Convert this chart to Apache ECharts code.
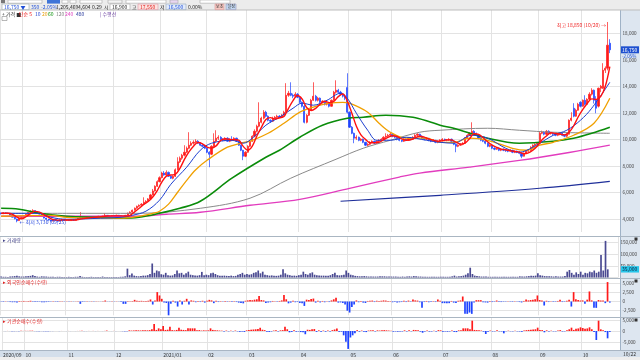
<!DOCTYPE html>
<html><head><meta charset="utf-8">
<script src="https://cdn.jsdelivr.net/npm/echarts@6/dist/echarts.min.js"></script>
<style>html,body{margin:0;padding:0;background:#fff}#c{width:640px;height:360px}</style>
</head><body><div id="c"></div>
<script>
// ---------- DATA ----------
const monthLabels = ['2020/09','10','11','12','2021/01','02','03','04','05','06','07','08','09','10'];
const monthDays = [10,19,21,21,20,18,23,22,19,22,22,21,19,13];
const lastDateLabel = '10/22';

// candles: [open, close, low, high]
const sep20 = [[4420,4380,4330,4470],[4380,4450,4350,4500],[4450,4400,4360,4490],[4400,4420,4350,4460],[4410,4280,4250,4430],[4280,4120,4100,4300],[4120,4000,3960,4150],[3980,3850,3730,4000],[3860,4030,3830,4060],[4030,4100,4000,4140]];
const oct20 = [[4100,4200,4080,4230],[4200,4330,4180,4360],[4330,4480,4300,4520],[4480,4560,4430,4640],[4560,4620,4500,4720],[4620,4500,4460,4650],[4500,4420,4380,4530],[4420,4350,4320,4450],[4350,4200,4170,4370],[4200,4050,4020,4220],[4050,3960,3920,4080],[3960,3900,3850,4000],[3900,3830,3790,3930],[3830,3950,3810,3980],[3950,3880,3850,3990],[3880,3820,3780,3910],[3820,3900,3800,3940],[3900,3960,3870,3990],[3960,3880,3860,3980]];
const nov20 = [[3880,3900,3850,3940],[3900,3860,3830,3930],[3860,3920,3840,3950],[3920,3880,3860,3950],[3880,3960,3870,3990],[3960,4040,3940,4070],[4040,4110,4020,4500],[4110,4080,4050,4150],[4080,4030,4000,4100],[4030,4100,4010,4130],[4100,4080,4060,4140],[4080,4160,4060,4190],[4160,4110,4080,4180],[4110,4170,4100,4200],[4170,4190,4140,4220],[4190,4150,4130,4210],[4150,4200,4130,4230],[4200,4260,4180,4420],[4260,4210,4190,4280],[4210,4190,4160,4240],[4190,4250,4170,4270]];
const dec20 = [[4250,4200,4180,4280],[4200,4270,4190,4300],[4270,4240,4210,4290],[4240,4180,4160,4260],[4180,4150,4120,4210],[4150,4260,4140,4290],[4260,4420,4240,4460],[4420,4500,4380,4560],[4500,4650,4470,4690],[4650,4800,4620,4850],[4800,4940,4760,4990],[4940,5020,4880,5080],[5020,5100,4990,5180],[5100,5250,5050,5620],[5250,5320,5200,5400],[5320,5500,5300,5560],[5500,5800,5480,5880],[5800,6100,5760,6250],[6100,6450,6050,6520],[6450,6800,6400,6900],[6800,7100,6750,7200]];
const jan21 = [[7100,7450,7050,7550],[7450,7300,7250,7600],[7300,7500,7220,7650],[7500,7210,7150,7560],[7210,7060,7000,7280],[7060,7200,6980,7280],[7200,7700,7150,7800],[7700,8300,7650,8640],[8300,8570,8200,8700],[8570,8790,8450,8900],[8790,9020,8700,9550],[9020,9320,8950,9450],[9320,9550,9250,10530],[9550,9700,9480,9850],[9700,9770,9600,9920],[9770,9850,9700,10000],[9850,9700,9650,9930],[9700,9550,9480,9780],[9550,9470,9400,9620],[9470,9320,9250,9520]];
const feb21 = [[9320,9020,8950,9380],[9020,8870,7890,9100],[8870,9470,8800,9550],[9470,9850,9400,10450],[9850,10080,9780,10680],[10080,10150,9950,10300],[10150,9990,9920,10230],[9990,9920,9850,10080],[9920,10080,9880,10150],[10080,9850,9800,10150],[9850,10000,9780,10080],[10000,9920,9850,10230],[9920,10080,9880,10150],[10080,9850,9800,10120],[9850,9550,9500,9900],[9550,9170,9100,9600],[9170,8720,8420,9200],[8720,9020,8650,9100]];
const mar21 = [[9020,9470,8980,9550],[9470,9850,9400,9950],[9850,10230,9800,10300],[10230,10600,10150,10750],[10600,10980,10520,11100],[10980,11280,10900,12790],[11280,11590,11200,11700],[11590,12040,11500,12200],[12040,11740,11650,12150],[11740,11430,11350,11800],[11430,11360,11250,11500],[11360,11590,11300,11700],[11590,11660,11500,11750],[11660,11740,11600,11850],[11740,11660,11580,11820],[11660,11810,11600,11900],[11810,12040,11750,12150],[12040,13320,12000,14230],[13320,13470,13200,13650],[13470,13320,13250,14300],[13320,13250,13100,13450],[13250,13400,13150,13550],[13400,13170,13100,13480]];
const apr21 = [[13170,12790,12700,13250],[12790,12490,12400,12850],[12490,11280,11200,12600],[11280,11810,11200,11900],[11810,12190,11750,12300],[12190,12940,12150,13050],[12940,13250,12900,14300],[13250,12940,12850,13350],[12940,13100,12850,13200],[13100,12790,12700,13150],[12790,12870,12700,12950],[12870,12640,12550,12900],[12640,12720,12550,12800],[12720,12490,12400,12760],[12490,12940,12450,13000],[12940,13550,12900,13650],[13550,13700,13450,14450],[13700,13550,13450,13800],[13550,13400,13300,13650],[13400,13250,13150,13500],[13250,13100,12950,13350],[13900,12040,11950,14980]];
const may21 = [[12040,10910,10850,12100],[10910,10450,10380,11000],[10450,10080,9700,10500],[10080,10150,9950,10300],[10150,9920,9850,10200],[9920,10000,9850,10080],[10000,9770,9700,10050],[9770,9550,9480,9800],[9550,9620,9450,9700],[9620,9770,9550,9850],[9770,9850,9700,9920],[9850,9700,9650,9900],[9700,9850,9650,9920],[9850,9920,9780,10000],[9920,10000,9850,10080],[10000,10150,9950,10230],[10150,10230,10080,10450],[10230,10300,10150,10400],[10300,10380,10230,10500]];
const jun21 = [[10380,10230,10150,10450],[10230,10150,10080,10300],[10150,10000,9920,10200],[10000,9920,9850,10080],[9920,9850,9780,9950],[9850,10000,9800,10080],[10000,9920,9850,10050],[9920,10080,9880,10150],[10080,10000,9920,10150],[10000,10150,9950,10230],[10150,10300,10080,10380],[10300,10380,10230,10450],[10380,10230,10150,10420],[10230,10080,10000,10300],[10080,10000,9920,10150],[10000,10080,9950,10150],[10080,9920,9850,10100],[9920,9850,9780,9980],[9850,9920,9800,10000],[9920,9770,9700,9950],[9770,9850,9700,9920],[9850,9920,9800,10000]];
const jul21 = [[9920,10000,9850,10080],[10000,9920,9850,10050],[9920,9950,9850,10020],[9950,10000,9880,10080],[10000,9850,9800,10050],[9850,9620,9550,9880],[9620,9470,9020,9650],[9470,9550,9400,9620],[9550,9620,9500,9700],[9620,9700,9550,9780],[9700,10080,9650,10150],[10080,10300,10000,10380],[10300,10450,10250,10530],[10450,10600,10380,11280],[10600,10450,10380,10680],[10450,10300,10230,10500],[10300,10080,10000,10350],[10080,9920,9850,10150],[9920,9850,9780,9980],[9850,9700,9620,9900],[9700,9470,9400,9750],[9470,9550,9400,9620]];
const aug21 = [[9550,9320,9250,9600],[9320,9250,9170,9400],[9250,9320,9200,9400],[9320,9170,9100,9380],[9170,9250,9100,9320],[9250,9170,9100,9300],[9170,9120,9050,9250],[9120,9100,9020,9200],[9100,9170,9050,9250],[9170,9020,8950,9200],[9020,9100,8950,9170],[9100,9020,8950,9150],[9020,8940,8870,9100],[8940,8720,8570,8980],[8720,8940,8700,9000],[8940,9100,8900,9170],[9100,9170,9050,9250],[9170,9400,9120,9470],[9400,9550,9350,9620],[9550,9620,9470,9700],[9620,9700,9550,9780]];
const sep21 = [[9700,10450,9650,10600],[10450,10530,10380,10650],[10530,10380,10300,10600],[10380,10600,10300,10700],[10600,10450,10380,10680],[10450,10460,10350,10550],[10460,10380,10300,10500],[10380,10300,10230,10450],[10300,10380,10230,10450],[10380,10450,10300,10530],[10450,10300,10230,10500],[10300,10230,10150,10380],[10230,10380,10150,10450],[10380,11430,10350,11500],[11430,11590,11350,12040],[12340,11740,11660,12720],[11740,12190,11700,12300],[12190,12640,12150,12750],[12790,12490,12400,12870]];
const oct21 = [[12490,12940,12450,13000],[12940,12640,12550,13320],[12640,13020,12600,13100],[13020,13400,12950,13550],[13400,13700,13300,13850],[13700,12940,12700,13750],[12940,12340,11960,13250],[12500,13850,12400,13900],[13850,14000,13550,14100],[13850,15210,13800,15740],[15210,15360,15000,15500],[15360,17100,15200,18850],[17250,16750,16500,17550]];

const volume = [
 4000,3000,3000,2000,4000,5000,6000,8000,5000,4000,
 4000,5000,6000,7000,10000,6000,4000,3000,5000,4000,4000,3000,3000,3000,2000,3000,3000,2000,2000,
 2000,3000,2000,2000,3000,3000,6000,3000,2000,2000,2000,3000,2000,2000,2000,2000,4000,2000,2000,2000,2000,
 2000,2000,2000,3000,3000,5000,38000,10000,17000,8000,6000,5000,6000,8000,8000,10000,15000,60000,20000,30000,27000,
 14000,12000,20000,10000,8000,9000,15000,30000,18000,20000,12000,18000,25000,12000,10000,9000,8000,10000,24000,10000,
 12000,10000,18000,20000,15000,10000,8000,7000,8000,7000,6000,8000,6000,7000,12000,15000,20000,12000,
 15000,12000,14000,20000,22000,30000,18000,25000,12000,10000,8000,9000,8000,7000,8000,12000,35000,18000,12000,10000,8000,8000,7000,
 10000,12000,25000,15000,12000,18000,22000,12000,10000,9000,8000,8000,7000,8000,10000,15000,20000,10000,9000,10000,12000,30000,
 20000,12000,10000,7000,6000,5000,5000,6000,5000,4000,4000,4000,4000,4000,5000,5000,5000,4000,4000,
 4000,4000,4000,3000,3000,4000,3000,4000,5000,4000,6000,5000,4000,4000,3000,3000,3000,3000,3000,3000,3000,3000,
 3000,3000,3000,3000,3000,5000,8000,4000,5000,6000,8000,12000,18000,42000,15000,8000,6000,5000,4000,4000,4000,3000,
 3000,3000,3000,3000,3000,3000,3000,3000,3000,3000,3000,3000,3000,5000,4000,4000,5000,6000,7000,7000,8000,
 18000,10000,8000,6000,5000,5000,5000,4000,5000,4000,4000,4000,6000,25000,32000,20000,12000,22000,15000,
 25000,12000,20000,18000,25000,22000,30000,20000,25000,97000,30000,157000,35000];

const foreignNet = [
 -80,-120,60,-90,-150,-200,-180,-250,120,90,
 150,80,120,200,-100,-150,-120,-90,-200,-180,-160,-120,-100,80,-90,-110,60,70,-60,
 50,-40,60,-50,40,70,-640,-120,-80,60,-50,70,-60,50,40,-30,60,270,-40,-50,60,
 -60,50,-40,-120,-640,-640,100,80,120,450,200,150,180,120,150,200,550,-820,300,2550,1640,
 730,-300,-400,-4100,-600,200,-300,-1370,300,-820,200,730,-820,300,200,-200,150,-150,200,-300,
 200,450,300,-450,200,-150,100,-100,150,-100,80,-120,100,-150,-300,-400,-500,200,
 300,400,350,500,600,1500,400,300,-400,-300,-200,150,100,-100,150,300,1800,600,-500,-300,200,-200,-150,
 -400,-500,-1200,500,400,700,800,-300,200,-250,150,-200,100,-150,300,600,1000,-300,-250,-400,-800,-2500,
 -3000,-1500,-800,300,-200,150,-300,-400,150,200,250,-150,200,150,200,300,250,150,100,
 -200,-150,-250,-200,-150,200,-150,250,-100,550,300,250,-200,-1730,-150,150,-200,-150,100,-150,550,200,
 -450,-450,-450,-450,150,-300,-400,200,300,1360,-3360,-3360,-3000,-3360,-300,360,360,360,-200,-250,-300,150,
 -150,-100,270,-120,-150,-100,-80,100,-90,-120,80,-100,-150,-250,150,550,300,400,500,600,1640,
 400,300,-1090,200,-150,100,-120,-100,150,450,-150,-100,200,500,-1370,2550,600,400,270,
 300,-640,500,2730,300,-1730,-1730,400,270,270,-450,5280,-300];

const instNet = [
 50,-30,40,-20,-60,-80,-50,-100,60,40,
 80,60,100,150,-50,-80,-60,-40,-100,-90,-70,-50,-40,30,-30,-40,20,40,-20,
 30,-20,40,-20,30,50,100,-40,-30,30,-20,40,-30,30,20,-20,40,200,-30,-20,40,
 -30,30,-20,-80,-150,-100,300,200,250,400,300,250,300,350,300,400,800,3240,500,1230,800,
 2310,500,600,2000,400,300,500,1540,600,500,400,1230,1230,1230,1230,300,400,200,300,250,
 300,1230,500,400,300,200,150,-200,200,-150,150,-100,200,-150,-300,-200,-400,300,
 500,600,700,800,900,1500,600,400,-300,-400,-200,200,300,-200,300,400,2000,800,-600,-400,300,-300,-200,
 -500,-600,-1500,600,500,800,900,-400,300,-300,200,-300,200,-200,400,700,1200,-400,-300,-2000,-5000,-8300,
 -3000,-2000,-1000,400,-300,200,-400,-500,200,300,300,-200,300,200,300,400,300,200,150,
 -300,-200,-300,-250,-200,300,-200,300,-150,500,400,300,-300,-800,-200,200,-250,-200,150,-200,400,300,
 -300,-200,-300,-200,200,-400,-500,300,400,1230,1230,1230,800,4780,500,400,300,200,-300,-1390,-400,200,
 -200,-150,300,-150,-200,-1080,-100,150,-120,-150,100,-150,-200,-300,200,400,500,600,700,800,1540,
 500,400,-600,300,-200,150,-150,-150,200,400,-200,-150,300,800,1540,500,1000,1200,1700,
 1400,1000,1200,1700,800,-500,-4160,4780,770,400,-500,-3390,-400];

// moving averages: [day index, price]
const ma5 = [[0,4410],[3,4410],[5,4330],[7,4130],[9,3990],[11,4150],[13,4390],[15,4560],[17,4500],[19,4300],[21,4100],[23,3930],[26,3890],[29,3910],[32,3900],[35,3970],[38,4060],[41,4100],[44,4160],[47,4210],[50,4220],[53,4220],[55,4210],[57,4260],[59,4520],[61,4790],[63,5080],[65,5300],[67,5640],[69,6130],[71,6760],[73,7220],[75,7300],[77,7350],[79,7800],[81,8480],[83,9050],[85,9480],[87,9760],[89,9660],[91,9410],[93,9330],[95,9500],[97,9900],[99,10040],[101,9980],[103,9970],[105,9930],[107,9460],[109,9170],[111,9480],[113,10240],[115,10900],[117,11490],[119,11630],[121,11530],[123,11620],[125,11720],[126,12000],[127,12330],[129,12920],[131,13300],[133,13040],[135,12400],[137,12170],[139,12330],[141,12650],[143,12870],[145,12760],[147,12850],[149,13220],[151,13410],[153,12880],[155,11970],[157,10980],[159,10330],[161,9990],[163,9740],[165,9740],[167,9770],[169,9950],[171,10140],[173,10260],[175,10210],[177,10030],[179,9930],[181,9960],[183,10100],[185,10230],[187,10160],[189,10030],[191,9930],[193,9850],[195,9890],[197,9950],[199,9940],[201,9790],[203,9630],[205,9710],[207,10040],[209,10410],[211,10370],[213,10110],[215,9810],[217,9560],[219,9390],[221,9260],[223,9210],[225,9140],[227,9080],[229,9030],[231,8910],[233,8970],[235,9180],[237,9490],[239,9950],[241,10250],[243,10490],[245,10430],[247,10390],[249,10330],[251,10530],[253,11000],[255,11680],[257,12230],[259,12700],[261,13050],[263,13000],[265,13230],[267,14000],[269,15490]];
const ma10 = [[0,4410],[17,4410],[22,4110],[29,3960],[44,4040],[53,4110],[58,4260],[64,4570],[70,5400],[75,6600],[82,7890],[88,9170],[93,9700],[102,9920],[107,9700],[111,10080],[117,11060],[123,11660],[129,12340],[133,12720],[138,12570],[144,12940],[150,13470],[153,13090],[157,11960],[162,10680],[166,9920],[172,9920],[179,10150],[188,9920],[194,9770],[200,9700],[208,10300],[215,10080],[223,9320],[229,9020],[235,9400],[244,10300],[250,10680],[256,11430],[261,12340],[269,14300]];
const ma20 = [[0,4190],[22,4260],[29,4110],[44,4040],[53,4040],[61,4190],[67,4410],[70,4570],[74,5100],[78,6000],[82,6900],[86,7700],[91,8410],[100,9400],[106,9700],[111,9920],[118,10450],[125,11210],[132,12050],[138,12420],[145,12720],[151,12790],[154,12720],[162,12040],[167,11210],[172,10530],[179,10080],[188,10080],[194,9770],[200,9770],[207,10080],[215,9920],[226,9320],[232,9170],[238,9550],[244,9770],[253,10300],[262,11210],[269,13090]];
const ma60 = [[0,4790],[8,4720],[17,4410],[29,4190],[44,4110],[53,4040],[61,4110],[70,4410],[79,4790],[88,5320],[102,7060],[117,8640],[123,9170],[132,10150],[142,11060],[153,11580],[160,11660],[170,11810],[182,11660],[190,11280],[194,11060],[200,10830],[215,10080],[229,9700],[244,9850],[253,10080],[261,10450],[269,10910]];
const ma120 = [[0,4410],[29,4410],[61,4410],[88,4790],[110,5550],[128,7060],[148,8490],[160,9320],[172,9920],[185,10530],[194,10680],[215,10830],[229,10680],[244,10530],[269,10450]];
const ma240 = [[0,4190],[44,4190],[61,4190],[73,4340],[88,4490],[110,5020],[132,5470],[154,6300],[176,7150],[185,7450],[207,7900],[229,8400],[251,9000],[269,9550]];
const ma480 = [[150,5320],[194,5770],[238,6300],[269,6820]];

const highNote = '최고 18,850 (10/20) →';
const lowNote = '← 최저 3,730 (09/25)';
const highIdx = 268, highVal = 18850, lowIdx = 7, lowVal = 3730;

// ---------- BUILD ----------
const candles = [].concat(sep20,oct20,nov20,dec20,jan21,feb21,mar21,apr21,may21,jun21,jul21,aug21,sep21,oct21);
const categories = [], labelOf = {}, monthStart = new Set();
monthLabels.forEach((m,k)=>{ for(let d=0; d<monthDays[k]; d++){ const name = 'm'+k+'d'+d; if(d===0){monthStart.add(categories.length); labelOf[name]=m;} categories.push(name);} });
for(let p=0;p<4;p++) categories.push('pad'+p);

const FF = '"Noto Sans CJK KR","Noto Sans",sans-serif';
const fmt = v => (v<0?'-':'') + Math.abs(v).toString().replace(/\B(?=(\d{3})+(?!\d))/g, ',');
const isStart = (i) => monthStart.has(i);
const T0 = 'rgba(0,0,0,0)', GL = '#e3e3e3';

const grids = [
  {left:0, right:20, top:6.75, height:225.25},
  {left:0, right:20, top:236.7, height:40.8},
  {left:0, right:20, top:278.5, height:36.8},
  {left:0, right:20, top:317.5, height:32.4}
];
const xAxes = [0,1,2,3].map(g => ({
  type:'category', gridIndex:g, data:categories, boundaryGap:true,
  axisLine:{show:false}, axisTick:{show:false},
  axisLabel: g===3 ? {show:true, interval:isStart, formatter:(v)=>labelOf[v]||'', align:'left', fontSize:5, color:'#333', margin:2.5, fontFamily:FF} : {show:false},
  splitLine:{show:true, interval:isStart, lineStyle:{color:GL, width:1}}
}));
const yA = (g,min,max,interval,showFn,colors) => ({
  type:'value', gridIndex:g, position:'right', min, max, interval,
  axisLine:{show:false}, axisTick:{show:false},
  axisLabel:{fontSize:4.6, color:'#444', margin:2.5, fontFamily:FF, formatter:v => showFn(v) ? fmt(v) : ''},
  splitLine:{show:true, lineStyle:{color:colors, width:1}}
});
const yAxes = [
  yA(0,3000,20000,1000, v => v%2000===0 && v>=4000 && v<=18000, [T0,GL]),
  yA(1,0,175000,25000, v => v>0 && v%50000===0 && v<=150000, [GL,T0]),
  yA(2,-3750,6250,1250, v => v%2500===0 && v>=-2500 && v<=5000, [T0,GL]),
  yA(3,-8750,6250,1250, v => v%5000===0 && v>=-5000 && v<=5000, [T0,T0,T0,GL])
];
const maLine = (name,data,color,w) => ({name, type:'line', xAxisIndex:0, yAxisIndex:0, data, smooth:0.35, symbol:'none', z:4, silent:true, lineStyle:{color, width:w}});
const RED='#ff1a1a', BLUE='#1f44ff';
const series = [
  {type:'candlestick', xAxisIndex:0, yAxisIndex:0, data:candles, barWidth:1.7, z:3, silent:true,
   itemStyle:{color:RED, color0:BLUE, borderColor:RED, borderColor0:BLUE, borderWidth:0.7},
   markPoint:{silent:true, symbol:'circle', symbolSize:1, itemStyle:{color:T0}, data:[
     {coord:[categories[highIdx], highVal], label:{show:true, position:'left', distance:1, offset:[0,3], formatter:highNote, color:'#f02828', fontSize:5, fontFamily:FF}},
     {coord:[categories[lowIdx], lowVal], label:{show:true, position:'right', distance:2, formatter:lowNote, color:'#2244dd', fontSize:5, fontFamily:FF}}
   ]}},
  maLine('MA480', ma480, '#1f2f9a', 1.2),
  maLine('MA240', ma240, '#e23cbe', 1.3),
  maLine('MA120', ma120, '#8a8a8a', 1),
  maLine('MA60', ma60, '#0a8c0a', 1.6),
  maLine('MA20', ma20, '#f0a000', 1.3),
  maLine('MA10', ma10, '#1d3fd0', 1),
  maLine('MA5', ma5, '#ff1010', 1.4),
  {type:'bar', xAxisIndex:1, yAxisIndex:1, data:volume, barWidth:1.7, silent:true, itemStyle:{color:'#4a4a92'}},
  {type:'bar', xAxisIndex:2, yAxisIndex:2, data:foreignNet, barWidth:1.7, silent:true, itemStyle:{color:p => p.value>=0 ? RED : BLUE}},
  {type:'bar', xAxisIndex:3, yAxisIndex:3, data:instNet, barWidth:1.7, silent:true, itemStyle:{color:p => p.value>=0 ? RED : BLUE}}
];

const chart = echarts.init(document.getElementById('c'), null, {renderer:'canvas'});
chart.setOption({animation:false, backgroundColor:'#ffffff', grid:grids, xAxis:xAxes, yAxis:yAxes, series});

// ---------- DECORATION ----------
const R = (x,y,w,h,fill,stroke,z) => ({type:'rect', shape:{x,y,width:w,height:h}, style:{fill:fill||T0, stroke:stroke||null, lineWidth:stroke?0.6:0}, z:(z===undefined?100:z), silent:true});
const L = (x1,y1,x2,y2,c,z) => ({type:'line', shape:{x1,y1,x2,y2}, style:{stroke:c, lineWidth:1}, z:(z===undefined?100:z), silent:true});
const T = (x,y,text,color,size,z) => ({type:'text', x, y, z:(z===undefined?101:z), silent:true, style:{text, fill:color||'#333', fontSize:size||5, fontFamily:FF, textAlign:'left', align:'left', textVerticalAlign:'middle', verticalAlign:'middle'}});

const lastClose = candles[candles.length-1][1];
const lastVol = volume[volume.length-1];
const yTag = chart.convertToPixel({yAxisIndex:0}, lastClose);
const yVol = chart.convertToPixel({yAxisIndex:1}, lastVol);

const gfx = [];
gfx.push(R(620,10,20,341,'#dde6f0',null,-5));
gfx.push(L(620.5,10,620.5,351,'#9fb2c6',50));
gfx.push(R(0,350.5,640,6.5,'#d4dfeb',null,-5));
gfx.push(L(0,350.5,640,350.5,'#a9b6c4',50));
gfx.push(R(0,357,640,3,'#eeeeee',null,-5));
[236.5,278.5,317.5].forEach(y => gfx.push(L(0,y,640,y,'#aab6c2',50)));
// toolbar
gfx.push(R(0,0,640,10,'#ececec'));
gfx.push(L(0,10,640,10,'#bdbdbd'));
gfx.push(R(1,0,4,3.2,'#777'), R(8,0,34,3.2,'#fff','#aaa'), R(47,0,13,3.6,'#3e74d8'), R(62,0,6,3.2,'#fff','#aaa'), R(70,0,6,3.2,'#fff','#aaa'), R(80,0,22,3.2,'#fff','#aaa'), R(108,0,14,3.2,'#f4f4f4','#aaa'), R(126,0,40,3.2,'#fff','#aaa'), R(170,0,8,3.2,'#e9d6f2','#aaa'), R(200,0,30,3.2,'#fff','#aaa'));
gfx.push(R(2,4,27,5.6,'#fff','#9aa'));
gfx.push(T(4,6.9,'16,750 ▼','#1f4fd8',5));
gfx.push(T(31,6.9,'350','#1f4fd8',5), T(41,6.9,'-2.05%','#1f4fd8',5));
gfx.push(T(56,6.9,'1,205,469','#222',5), T(78,6.9,'4,604','#222',5), T(92,6.9,'0.29','#222',5));
gfx.push(T(104,6.9,'시','#222',5), R(110,4,20,5.6,'#fff','#aaa'), T(112,6.9,'16,900','#222',5));
gfx.push(T(132,6.9,'고','#222',5), R(138,4,20,5.6,'#fde3e0','#d9a'), T(140,6.9,'17,550','#e01818',5));
gfx.push(T(160,6.9,'저','#222',5), R(166,4,20,5.6,'#e2ebfb','#9ab'), T(168,6.9,'16,500','#1f4fd8',5));
gfx.push(T(188,6.9,'0.00%','#222',5));
gfx.push(R(215,4,9,5.6,'#f4c6c0','#d99'), T(216,6.9,'보조','#333',4), R(226,4,10,5.6,'#c4d8f2','#99b'), T(227.5,6.9,'설정','#333',4));
const leg = [[2,'+ 가격 ■','#333'],[19,'단순 5','#f01010'],[35,'10','#1d3fd0'],[42,'20','#e89a00'],[48,'60','#0a900a'],[56,'120','#808080'],[65,'240','#e040c0'],[76,'480','#223399'],[100,'| 수평선','#6a3fa0']];
leg.forEach(a => gfx.push(T(a[0],13.8,a[1],a[2],5)));
gfx.push(R(2,16.5,5,4,'#fff','#888',101));
gfx.push(T(3,240.5,'▸ 거래량','#45458a',5), T(3,282,'▸ 외국인순매수(수량)','#e02020',5), T(3,321,'▸ 기관순매수(수량)','#e02020',5));
[237.5,279.5,318.5].forEach(y => gfx.push(R(634.5,y,3,3,'#333',null,60)));
gfx.push(R(621,yTag-3.5,18,7,'#1e50d0',null,60), T(622,yTag,fmt(lastClose),'#fff',5,61), T(622,yTag+6.5,'-2.05%','#1e50d0',4.5,61));
gfx.push(R(621,yVol-3.2,18,6.4,'#26c6ea',null,60), T(622,yVol,fmt(lastVol),'#102040',5,61));
gfx.push(T(623,354,lastDateLabel,'#333',5,61));
chart.setOption({graphic:{elements:gfx}});
</script>
</body></html>
